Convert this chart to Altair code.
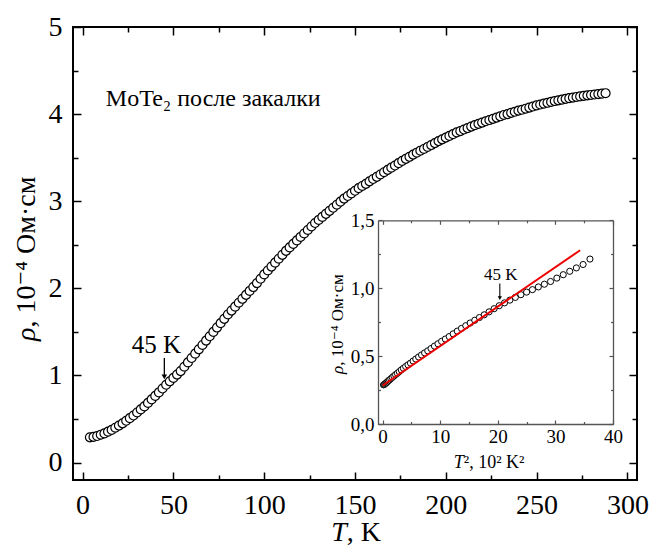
import altair as alt
import pandas as pd

# ---------------- data ----------------
T_main = [
    4, 6, 8, 10, 12, 14, 16, 18, 20, 22,
    24, 26, 28, 30, 32, 34, 36, 38, 40, 42,
    44, 46, 48, 50, 52, 54, 56, 58, 60, 62,
    64, 66, 68, 70, 72, 74, 76, 78, 80, 82,
    84, 86, 88, 90, 92, 94, 96, 98, 100, 102,
    104, 106, 108, 110, 112, 114, 116, 118, 120, 122,
    124, 126, 128, 130, 132, 134, 136, 138, 140, 142,
    144, 146, 148, 150, 152, 154, 156, 158, 160, 162,
    164, 166, 168, 170, 172, 174, 176, 178, 180, 182,
    184, 186, 188, 190, 192, 194, 196, 198, 200, 202,
    204, 206, 208, 210, 212, 214, 216, 218, 220, 222,
    224, 226, 228, 230, 232, 234, 236, 238, 240, 242,
    244, 246, 248, 250, 252, 254, 256, 258, 260, 262,
    264, 266, 268, 270, 272, 274, 276, 278, 280, 282,
    284, 286, 288,
]
rho_main = [
    0.290, 0.295, 0.305, 0.320, 0.335, 0.355, 0.375, 0.400, 0.425, 0.450,
    0.480, 0.510, 0.540, 0.575, 0.610, 0.645, 0.685, 0.725, 0.765, 0.805,
    0.850, 0.893, 0.933, 0.972, 1.010, 1.050, 1.100, 1.150, 1.200, 1.250,
    1.300, 1.350, 1.400, 1.450, 1.500, 1.550, 1.600, 1.650, 1.700, 1.745,
    1.790, 1.835, 1.880, 1.925, 1.970, 2.015, 2.060, 2.110, 2.160, 2.205,
    2.250, 2.295, 2.340, 2.385, 2.430, 2.470, 2.510, 2.550, 2.590, 2.630,
    2.670, 2.710, 2.750, 2.785, 2.820, 2.855, 2.890, 2.925, 2.960, 2.995,
    3.030, 3.060, 3.090, 3.120, 3.150, 3.175, 3.200, 3.228, 3.255, 3.280,
    3.307, 3.333, 3.360, 3.385, 3.410, 3.437, 3.463, 3.487, 3.510, 3.535,
    3.557, 3.580, 3.600, 3.623, 3.645, 3.667, 3.690, 3.710, 3.730, 3.750,
    3.770, 3.790, 3.805, 3.823, 3.840, 3.857, 3.873, 3.888, 3.903, 3.918,
    3.932, 3.946, 3.960, 3.975, 3.990, 4.000, 4.015, 4.027, 4.040, 4.050,
    4.062, 4.075, 4.087, 4.100, 4.110, 4.120, 4.130, 4.140, 4.150, 4.158,
    4.166, 4.175, 4.183, 4.190, 4.197, 4.203, 4.210, 4.215, 4.220, 4.225,
    4.230, 4.235, 4.240,
]

T_inset = [
    4, 5, 6, 7, 8, 9, 10, 11, 12, 13,
    14, 15, 16, 17, 18, 19, 20, 21, 22, 23,
    24, 25, 26, 27, 28, 29, 30, 31, 32, 33,
    34, 35, 36, 37, 38, 39, 40, 41, 42, 43,
    44, 45, 46, 47, 48, 49, 50, 51, 52, 53,
    54, 55, 56, 57, 58, 59, 60,
]
rho_inset = [
    0.290, 0.292, 0.295, 0.300, 0.305, 0.312, 0.320, 0.327, 0.335, 0.345,
    0.355, 0.365, 0.375, 0.387, 0.400, 0.412, 0.425, 0.437, 0.450, 0.465,
    0.480, 0.495, 0.510, 0.525, 0.540, 0.557, 0.575, 0.592, 0.610, 0.627,
    0.645, 0.665, 0.685, 0.705, 0.725, 0.745, 0.765, 0.785, 0.805, 0.827,
    0.850, 0.872, 0.893, 0.913, 0.933, 0.953, 0.972, 0.990, 1.010, 1.030,
    1.050, 1.075, 1.100, 1.125, 1.150, 1.175, 1.215,
]

fit_x = [0.0, 34.3]
fit_y = [0.285, 1.28]

# tick values
main_x_major = [0, 50, 100, 150, 200, 250, 300]
main_x_minor = [25, 75, 125, 175, 225, 275]
main_y_major = [0, 1, 2, 3, 4, 5]
main_y_minor = [0.5, 1.5, 2.5, 3.5, 4.5]
inset_x_major = [0, 10, 20, 30, 40]
inset_x_minor = [5, 15, 25, 35]
inset_y_major = [0.0, 0.5, 1.0, 1.5]
inset_y_minor = [0.25, 0.75, 1.25]

# annotations / axis titles (italic symbol + upright rest)
sample_label = ["MoTe₂ после закалки"]
sample_pos = [12.8, 4.09]
main_arrow = {"T": [45], "top": [1.20], "tip": [0.983], "label": ["45 K"], "lx": [40.7], "ly": [1.257]}
inset_arrow = {"x": [20.35], "top": [1.035], "tip": [0.928], "label": ["45 K"], "lx": [20.5], "ly": [1.06]}
main_xtitle = {"sym": ["T"], "rest": [", K"], "x": [145.5], "y": [-0.90]}
main_ytitle = {"sym": ["ρ"], "rest": [", 10⁻⁴ Ом·см"], "x": [-30.5], "y": [1.55]}
inset_xtitle = {"sym": ["T"], "rest": ["², 10² K²"], "x": [14.1], "y": [-0.324]}
inset_ytitle = {"sym": ["ρ"], "rest": [", 10⁻⁴ Ом·см"], "x": [-7.75], "y": [0.43]}

FONT = "Times New Roman, Liberation Serif, DejaVu Serif, serif"

# ---------------- scales ----------------
W, H = 564, 453
xs_main = alt.Scale(domain=[-5.3, 305.3], nice=False, zero=False)
ys_main = alt.Scale(domain=[-0.2, 5.0], nice=False, zero=False)
xs_in = alt.Scale(domain=[-0.8, 40], range=[305, 540], nice=False, zero=False)
ys_in = alt.Scale(domain=[0, 1.5], range=[397.3, 193.3], nice=False, zero=False)

main_df = pd.DataFrame({"T": T_main, "rho": rho_main})
inset_df = pd.DataFrame({"T2": [t * t / 100 for t in T_inset], "rho": rho_inset})
fit_df = pd.DataFrame({"T2": fit_x, "rho": fit_y})
dummy_main = pd.DataFrame({"a": [100], "b": [2]})
dummy_in = pd.DataFrame({"a": [10], "b": [0.5]})


def tick_axis(orient, values, size, offset, color="black", width=1.5):
    return alt.Axis(orient=orient, values=values, domain=False, labels=False,
                    ticks=True, tickSize=size, tickWidth=width, tickColor=color,
                    offset=offset, grid=False, title=None)


def axis_layer(df, xs, ys, xaxis, yaxis):
    return alt.Chart(df).mark_point(opacity=0).encode(
        x=alt.X("a:Q", scale=xs, axis=xaxis),
        y=alt.Y("b:Q", scale=ys, axis=yaxis),
    )


def title_layers(spec, xs, ys, size, angle):
    df = pd.DataFrame(spec)
    enc = dict(x=alt.X("x:Q", scale=xs, axis=None), y=alt.Y("y:Q", scale=ys, axis=None))
    if angle:
        sym = alt.Chart(df).mark_text(align="right", baseline="middle", angle=angle, fontSize=size,
                                      font=FONT, fontStyle="italic", color="black").encode(text="sym:N", **enc)
        rest = alt.Chart(df).mark_text(align="left", baseline="middle", angle=angle, fontSize=size,
                                       font=FONT, color="black").encode(text="rest:N", **enc)
    else:
        sym = alt.Chart(df).mark_text(align="right", baseline="alphabetic", fontSize=size,
                                      font=FONT, fontStyle="italic", color="black").encode(text="sym:N", **enc)
        rest = alt.Chart(df).mark_text(align="left", baseline="alphabetic", fontSize=size,
                                       font=FONT, color="black").encode(text="rest:N", **enc)
    return [sym, rest]


# ---------------- main panel ----------------
main_pts = alt.Chart(main_df).mark_point(
    shape="circle", filled=True, fill="white", stroke="black", strokeWidth=1.2, size=80, opacity=1
).encode(
    x=alt.X("T:Q", scale=xs_main, axis=alt.Axis(
        orient="bottom", values=main_x_major, domain=False, ticks=False, grid=False,
        labelFontSize=28, labelPadding=11, labelFlush=False, labelOverlap=False, format="d",
        title=None)),
    y=alt.Y("rho:Q", scale=ys_main, axis=alt.Axis(
        orient="left", values=main_y_major, domain=False, ticks=False, grid=False,
        labelFontSize=28, labelPadding=11, labelFlush=False, labelOverlap=False, format="d",
        title=None)),
)

main_major_bl = axis_layer(dummy_main, xs_main, ys_main,
                           tick_axis("bottom", main_x_major, 8, -8),
                           tick_axis("left", main_y_major, 8, -8))
main_minor_bl = axis_layer(dummy_main, xs_main, ys_main,
                           tick_axis("bottom", main_x_minor, 5, -5),
                           tick_axis("left", main_y_minor, 5, -5))
main_major_tr = axis_layer(dummy_main, xs_main, ys_main,
                           tick_axis("top", main_x_major, 8, -8),
                           tick_axis("right", main_y_major, 8, -8))
main_minor_tr = axis_layer(dummy_main, xs_main, ys_main,
                           tick_axis("top", main_x_minor, 5, -5),
                           tick_axis("right", main_y_minor, 5, -5))

sample_text = alt.Chart(pd.DataFrame({"x": [sample_pos[0]], "y": [sample_pos[1]], "s": sample_label})).mark_text(
    align="left", baseline="alphabetic", fontSize=24, font=FONT, color="black"
).encode(x=alt.X("x:Q", scale=xs_main, axis=None), y=alt.Y("y:Q", scale=ys_main, axis=None), text="s:N")

marr_df = pd.DataFrame(main_arrow)
marr_rule = alt.Chart(marr_df).mark_rule(color="black", strokeWidth=1.3).encode(
    x=alt.X("T:Q", scale=xs_main, axis=None), y=alt.Y("top:Q", scale=ys_main, axis=None), y2="tip:Q")
marr_head = alt.Chart(marr_df).mark_point(shape="triangle-down", filled=True, color="black", size=30, opacity=1).encode(
    x=alt.X("T:Q", scale=xs_main, axis=None), y=alt.Y("tip:Q", scale=ys_main, axis=None))
marr_text = alt.Chart(marr_df).mark_text(align="center", baseline="alphabetic", fontSize=25, font=FONT, color="black").encode(
    x=alt.X("lx:Q", scale=xs_main, axis=None), y=alt.Y("ly:Q", scale=ys_main, axis=None), text="label:N")

main_titles = (title_layers(main_xtitle, xs_main, ys_main, 28, 0)
               + title_layers(main_ytitle, xs_main, ys_main, 28, 270))

# ---------------- inset ----------------
GRAY = "#555555"
inset_pts = alt.Chart(inset_df).mark_point(
    shape="circle", filled=True, fill="white", stroke="black", strokeWidth=1, size=38, opacity=1
).encode(
    x=alt.X("T2:Q", scale=xs_in, axis=alt.Axis(
        orient="bottom", offset=-56, values=inset_x_major, domain=True, domainColor=GRAY, domainWidth=1.3,
        ticks=False, grid=False, labelFontSize=19, labelPadding=3, labelFlush=False, labelOverlap=False,
        format="d", title=None)),
    y=alt.Y("rho:Q", scale=ys_in, axis=alt.Axis(
        orient="left", offset=-305, values=inset_y_major, domain=True, domainColor=GRAY, domainWidth=1.3,
        ticks=False, grid=False, labelFontSize=19, labelPadding=4, labelFlush=False, labelOverlap=False,
        labelExpr="replace(format(datum.value, '.1f'), '.', ',')", title=None)),
)

fit_line = alt.Chart(fit_df).mark_line(color="#ee0000", strokeWidth=2).encode(
    x=alt.X("T2:Q", scale=xs_in, axis=None), y=alt.Y("rho:Q", scale=ys_in, axis=None))

in_major_bl = axis_layer(dummy_in, xs_in, ys_in,
                         tick_axis("bottom", inset_x_major, 4, -60, GRAY, 1.2),
                         tick_axis("left", inset_y_major, 4, -309, GRAY, 1.2))
in_minor_bl = axis_layer(dummy_in, xs_in, ys_in,
                         tick_axis("bottom", inset_x_minor, 2.5, -58.5, GRAY, 1.2),
                         tick_axis("left", inset_y_minor, 2.5, -307.5, GRAY, 1.2))
in_frame_tr = axis_layer(dummy_in, xs_in, ys_in,
                         alt.Axis(orient="top", offset=-193.3, domain=True, domainColor=GRAY, domainWidth=1.3,
                                  ticks=False, labels=False, grid=False, title=None),
                         alt.Axis(orient="right", offset=-24, domain=True, domainColor=GRAY, domainWidth=1.3,
                                  ticks=False, labels=False, grid=False, title=None))
in_major_tr = axis_layer(dummy_in, xs_in, ys_in,
                         tick_axis("top", inset_x_major, 4, -197.3, GRAY, 1.2),
                         tick_axis("right", inset_y_major, 4, -28, GRAY, 1.2))
in_minor_tr = axis_layer(dummy_in, xs_in, ys_in,
                         tick_axis("top", inset_x_minor, 2.5, -195.8, GRAY, 1.2),
                         tick_axis("right", inset_y_minor, 2.5, -26.5, GRAY, 1.2))

iarr_df = pd.DataFrame(inset_arrow)
iarr_rule = alt.Chart(iarr_df).mark_rule(color="black", strokeWidth=1.1).encode(
    x=alt.X("x:Q", scale=xs_in, axis=None), y=alt.Y("top:Q", scale=ys_in, axis=None), y2="tip:Q")
iarr_head = alt.Chart(iarr_df).mark_point(shape="triangle-down", filled=True, color="black", size=18, opacity=1).encode(
    x=alt.X("x:Q", scale=xs_in, axis=None), y=alt.Y("tip:Q", scale=ys_in, axis=None))
iarr_text = alt.Chart(iarr_df).mark_text(align="center", baseline="alphabetic", fontSize=17, font=FONT, color="black").encode(
    x=alt.X("lx:Q", scale=xs_in, axis=None), y=alt.Y("ly:Q", scale=ys_in, axis=None), text="label:N")

inset_titles = (title_layers(inset_xtitle, xs_in, ys_in, 18, 0)
                + title_layers(inset_ytitle, xs_in, ys_in, 17, 270))

chart = alt.layer(
    main_pts, main_major_bl, main_minor_bl, main_major_tr, main_minor_tr,
    sample_text, marr_rule, marr_head, marr_text, *main_titles,
    inset_pts, fit_line, in_major_bl, in_minor_bl, in_frame_tr, in_major_tr, in_minor_tr,
    iarr_rule, iarr_head, iarr_text, *inset_titles,
).resolve_scale(x="independent", y="independent").resolve_axis(
    x="independent", y="independent"
).properties(
    width=W, height=H,
    autosize=alt.AutoSizeParams(type="none"),
    padding={"left": 73, "top": 27, "right": 14, "bottom": 66},
    background="white",
).configure_view(
    stroke="black", strokeWidth=2
).configure_axis(
    labelFont=FONT, titleFont=FONT, labelColor="black", titleColor="black",
    titleFontWeight="normal", grid=False
).configure_text(font=FONT)

chart.save("out.html", embed_options={"renderer": "svg", "actions": False})
